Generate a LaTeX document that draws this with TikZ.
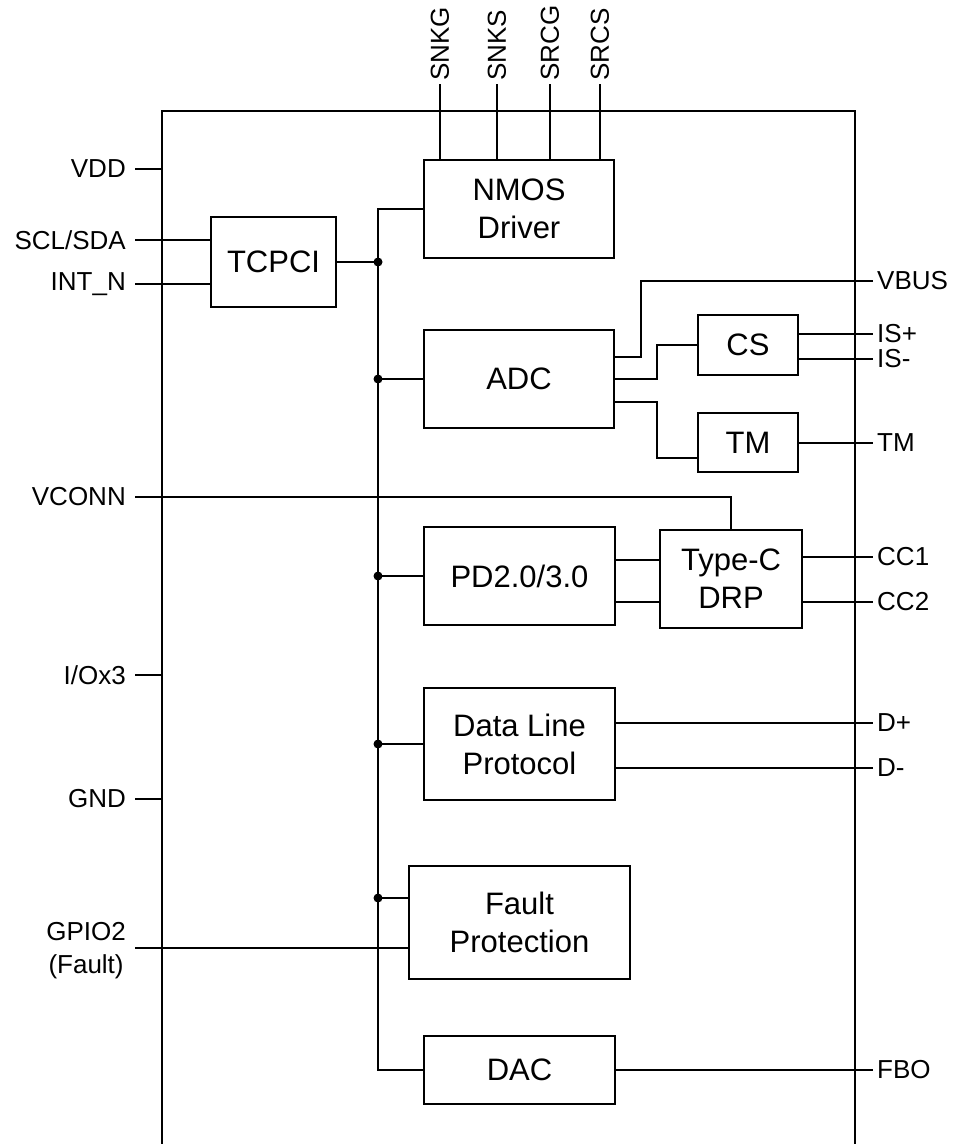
\documentclass[tikz,border=0pt]{standalone}
\usepackage{fontspec}
\setmainfont{Liberation Sans}
\begin{document}
\begin{tikzpicture}[x=1pt,y=-1pt,
  wire/.style={line width=1.8pt},
  blk/.style={draw,line width=1.8pt,fill=white,align=center,inner sep=0pt,
    font=\fontsize{31}{38}\selectfont},
  pinl/.style={anchor=east,inner sep=2pt,align=center,font=\fontsize{26}{33}\selectfont},
  pinr/.style={anchor=west,inner sep=2pt,font=\fontsize{26}{30}\selectfont},
  pint/.style={anchor=west,rotate=90,inner sep=2pt,font=\fontsize{26}{30}\selectfont},
  dot/.style={circle,fill=black,inner sep=0pt,minimum size=9pt}]
\useasboundingbox (0,0) rectangle (957,1144);
% chip outline
\draw[wire] (162,1144) -- (162,111) -- (855,111) -- (855,1144);
% blocks
\node[blk,minimum width=190pt,minimum height=98pt] (nmos) at (519,209) {NMOS\\Driver};
\node[blk,minimum width=125pt,minimum height=90pt] (tcpci) at (273.5,262) {TCPCI};
\node[blk,minimum width=190pt,minimum height=98pt] (adc) at (519,379) {ADC};
\node[blk,minimum width=100pt,minimum height=60pt] (cs) at (748,345) {CS};
\node[blk,minimum width=100pt,minimum height=59pt] (tm) at (748,442.5) {TM};
\node[blk,minimum width=191pt,minimum height=98pt] (pd) at (519.5,576) {PD2.0/3.0};
\node[blk,minimum width=142pt,minimum height=98pt] (typec) at (731,579) {Type-C\\DRP};
\node[blk,minimum width=191pt,minimum height=112pt] (dlp) at (519.5,744) {Data Line\\Protocol};
\node[blk,minimum width=221pt,minimum height=113pt] (fault) at (519.5,922.5) {Fault\\Protection};
\node[blk,minimum width=191pt,minimum height=68pt] (dac) at (519.5,1070) {DAC};
% internal bus
\coordinate (b0) at (378,209);
\coordinate (b1) at (378,262);
\coordinate (b2) at (378,379);
\coordinate (b3) at (378,576);
\coordinate (b4) at (378,744);
\coordinate (b5) at (378,898);
\coordinate (b6) at (378,1070);
\draw[wire] (nmos.west) -- (b0) -- (b6) -- (dac.west);
\draw[wire] (tcpci.east) -- (b1);
\draw[wire] (b2) -- (adc.west);
\draw[wire] (b3) -- (pd.west);
\draw[wire] (b4) -- (dlp.west);
\draw[wire] (b5) -- (fault.west |- b5);
\foreach \p in {b1,b2,b3,b4,b5} \node[dot] at (\p) {};
% top pins
\foreach \x/\t in {440/SNKG,497/SNKS,550/SRCG,600/SRCS}{
  \coordinate (tp\t) at (\x,84);
  \draw[wire] (nmos.north -| tp\t) -- (tp\t);
  \node[pint] at (\x,83) {\t};
}
% left pins
\node[pinl] (lvdd) at (128,169) {VDD};
\node[pinl] (lscl) at (128,240) {SCL/SDA};
\node[pinl] (lint) at (128,284) {INT\_N};
\node[pinl] (lvconn) at (128,497) {VCONN};
\node[pinl] (lio) at (128,675) {I/Ox3};
\node[pinl] (lgnd) at (128,799) {GND};
\node[pinl] (lgpio) at (128,951) {GPIO2\\(Fault)};
\coordinate (evdd) at (135,169);
\coordinate (escl) at (135,240);
\coordinate (eint) at (135,284);
\coordinate (evconn) at (135,497);
\coordinate (eio) at (135,675);
\coordinate (egnd) at (135,799);
\coordinate (egpio) at (135,948);
\draw[wire] (evdd) -- (162,169);
\draw[wire] (escl) -- (tcpci.west |- escl);
\draw[wire] (eint) -- (tcpci.west |- eint);
\draw[wire] (eio) -- (162,675);
\draw[wire] (egnd) -- (162,799);
\draw[wire] (egpio) -- (fault.west |- egpio);
\draw[wire] (evconn) -- (731,497) -- (typec.north);
% right pins
\foreach \y/\t/\n in {281/VBUS/vbus,334/IS+/isp,359/IS-/ism,443/TM/tmp,557/CC1/cca,602/CC2/ccb,723/D+/dp,768/D-/dm,1070/FBO/fbo}{
  \coordinate (r\n) at (873,\y);
  \node[pinr] at (875,\y) {\t};
}
\draw[wire] (adc.east |- 0,357) -- (641,357) -- (641,281) -- (rvbus);
\draw[wire] (adc.east |- 0,379) -- (657,379) -- (657,345) -- (cs.west);
\draw[wire] (adc.east |- 0,402) -- (657,402) -- (657,458) -- (tm.west |- 0,458);
\draw[wire] (cs.east |- risp) -- (risp);
\draw[wire] (cs.east |- rism) -- (rism);
\draw[wire] (tm.east |- rtmp) -- (rtmp);
\draw[wire] (pd.east |- 0,560) -- (typec.west |- 0,560);
\draw[wire] (pd.east |- 0,602) -- (typec.west |- 0,602);
\draw[wire] (typec.east |- rcca) -- (rcca);
\draw[wire] (typec.east |- rccb) -- (rccb);
\draw[wire] (dlp.east |- rdp) -- (rdp);
\draw[wire] (dlp.east |- rdm) -- (rdm);
\draw[wire] (dac.east) -- (rfbo);
\end{tikzpicture}
\end{document}
